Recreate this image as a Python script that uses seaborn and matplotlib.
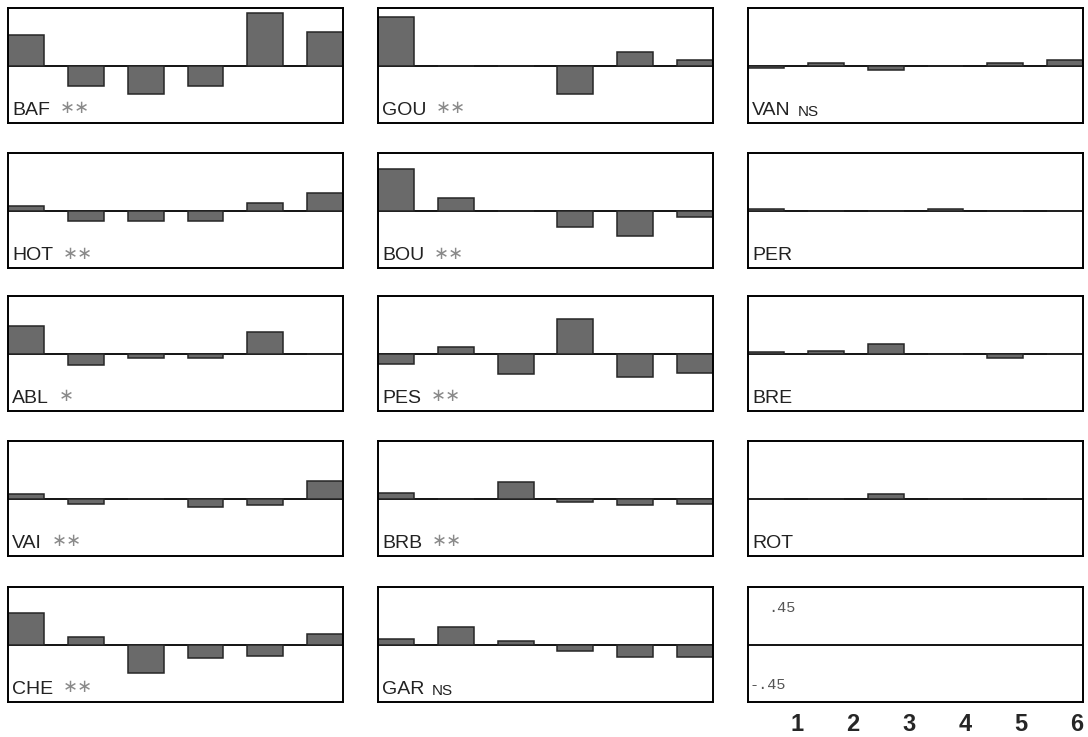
import numpy as np
import pandas as pd
import matplotlib
matplotlib.use('Agg')
import matplotlib.pyplot as plt
import seaborn as sns

sns.set_style('white')
plt.rcParams['font.family'] = ['Liberation Sans', 'DejaVu Sans']

# six classes on the x axis
classes = ['1', '2', '3', '4', '5', '6']

# bar heights per site (scale box gives +/-.45)
BAF = [0.24, -0.16, -0.22, -0.16, 0.41, 0.26]
HOT = [0.035, -0.08, -0.08, -0.08, 0.06, 0.14]
ABL = [0.22, -0.09, -0.03, -0.03, 0.17, 0.0]
VAI = [0.035, -0.045, 0.0, -0.07, -0.05, 0.14]
CHE = [0.25, 0.06, -0.22, -0.105, -0.09, 0.08]
GOU = [0.38, 0.0, 0.0, -0.22, 0.11, 0.04]
BOU = [0.33, 0.10, 0.0, -0.13, -0.20, -0.045]
PES = [-0.08, 0.05, -0.16, 0.27, -0.18, -0.15]
BRB = [0.04, 0.0, 0.13, -0.03, -0.05, -0.04]
GAR = [0.04, 0.135, 0.025, -0.05, -0.095, -0.095]
VAN = [-0.015, 0.02, -0.035, 0.0, 0.02, 0.045]
PER = [0.015, 0.0, 0.0, 0.015, 0.0, 0.0]
BRE = [0.015, 0.025, 0.075, 0.0, -0.03, 0.0]
ROT = [0.0, 0.0, 0.035, 0.0, 0.0, 0.0]

columns = [
    [('BAF', '**', BAF), ('HOT', '**', HOT), ('ABL', '*', ABL), ('VAI', '**', VAI), ('CHE', '**', CHE)],
    [('GOU', '**', GOU), ('BOU', '**', BOU), ('PES', '**', PES), ('BRB', '**', BRB), ('GAR', 'NS', GAR)],
    [('VAN', 'NS', VAN), ('PER', '', PER), ('BRE', '', BRE), ('ROT', '', ROT), None],
]
scale_labels = ['.45', '-.45']
ylim = (-0.45, 0.45)

fig = plt.figure(figsize=(10.88, 7.37), dpi=100)

col_left = [0.0074, 0.3474, 0.6875]
row_bottom = [0.833, 0.636, 0.442, 0.2456, 0.0475]
w, h = 0.308, 0.156

bar_color = '#6a6a6a'
edge_color = '#262626'


def frame(ax):
    ax.set_ylim(*ylim)
    ax.set_xlim(-0.3, 5.3)
    ax.axhline(0, color='black', lw=1.3, zorder=0)
    for s in ax.spines.values():
        s.set_visible(True)
        s.set_color('black')
        s.set_linewidth(1.4)
    ax.set_xlabel('')
    ax.set_ylabel('')
    ax.set_yticks([])


for ci, col in enumerate(columns):
    for ri, panel in enumerate(col):
        ax = fig.add_axes([col_left[ci], row_bottom[ri], w, h])
        if panel is None:
            # scale box, no bars
            frame(ax)
            ax.text(0.06, 0.82, scale_labels[0], transform=ax.transAxes,
                    family='Liberation Mono', fontsize=11, color='#555555', va='center')
            ax.text(0.005, 0.15, scale_labels[1], transform=ax.transAxes,
                    family='Liberation Mono', fontsize=11, color='#555555', va='center')
            ax.set_xticks(np.linspace(0.52, 5.2, 6))
            ax.set_xticklabels(classes, fontsize=17, fontweight='bold')
            ax.tick_params(axis='x', length=0, pad=8)
            continue
        name, sig, vals = panel
        df = pd.DataFrame({'cls': classes, 'val': vals})
        sns.barplot(data=df, x='cls', y='val', ax=ax, color=bar_color,
                    saturation=1, width=0.6, edgecolor=edge_color, linewidth=1.1)
        frame(ax)
        ax.set_xticks([])
        t = ax.text(0.012, 0.07, name, transform=ax.transAxes, fontsize=14,
                    color='#222222', va='baseline')
        if sig == 'NS':
            ax.annotate(sig, xy=(1, 0), xycoords=t, xytext=(5, 0),
                        textcoords='offset points', fontsize=11, color='#222222',
                        va='bottom')
        elif sig:
            ax.annotate(sig.replace('*', '\u2217'), xy=(1, 0.1), xycoords=t,
                        xytext=(7, 0), textcoords='offset points', fontsize=13,
                        color='#8a8a8a', va='bottom', family='DejaVu Sans')

fig.savefig('out.png', dpi=100)
